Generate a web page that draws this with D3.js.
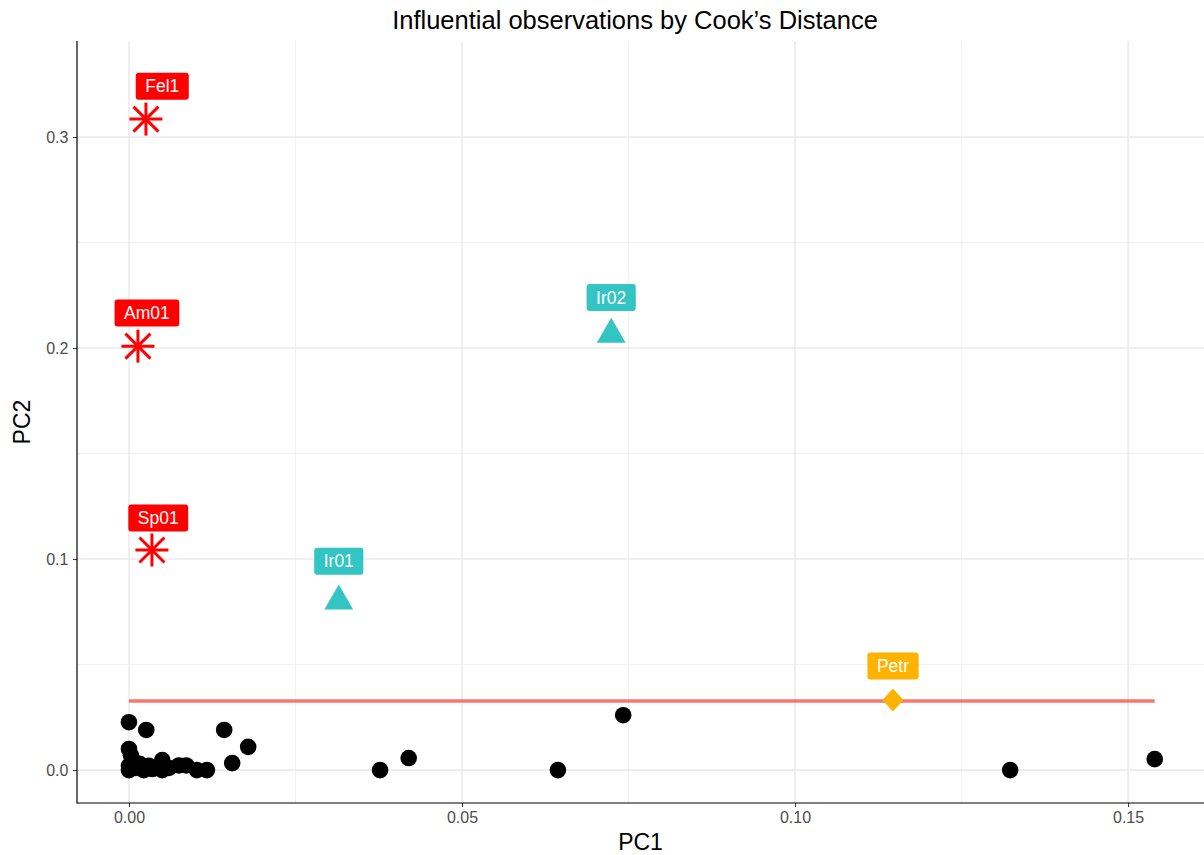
<!DOCTYPE html>
<html>
<head>
<meta charset="utf-8">
<script src="https://cdn.jsdelivr.net/npm/d3@7"></script>
<style>
  body { margin: 0; background: #fff; }
  svg { display: block; }
  text { font-family: "Liberation Sans", Arial, sans-serif; }
</style>
</head>
<body>
<svg id="chart" width="1204" height="855"></svg>
<script>
// Cook's distance components for each observation
const ordinaryPC1 = [0.0000, 0.0026, 0.0143, 0.0179, 0.0155, 0.0000, 0.0003, 0.0000, 0.0000,
  0.0010, 0.0016, 0.0022, 0.0030, 0.0040, 0.0050, 0.0050, 0.0060, 0.0075, 0.0086, 0.0102,
  0.0117, 0.0006, 0.0020, 0.0035, 0.0377, 0.0420, 0.0644, 0.0742, 0.1323, 0.1540];
const ordinaryPC2 = [0.0227, 0.0190, 0.0190, 0.0110, 0.0033, 0.0100, 0.0070, 0.0020, 0.0000,
  0.0010, 0.0030, 0.0000, 0.0020, 0.0010, 0.0047, 0.0000, 0.0010, 0.0022, 0.0022, 0.0000,
  0.0000, 0.0040, 0.0015, 0.0005, 0.0000, 0.0057, 0.0000, 0.0260, 0.0000, 0.0052];

const flaggedNames = ["Fel1", "Am01", "Sp01", "Ir01", "Ir02", "Petr"];
const flaggedGroup = ["A", "A", "A", "B", "B", "C"];
const flaggedPC1 = [0.00255, 0.00135, 0.00345, 0.0315, 0.0724, 0.1147];
const flaggedPC2 = [0.3085, 0.2009, 0.1043, 0.0800, 0.2065, 0.0332];
const labelPC1 = [0.0050, 0.0027, 0.0044, 0.0315, 0.0724, 0.1147];
const labelPC2 = [0.3240, 0.2166, 0.1194, 0.0990, 0.2240, 0.0493];

// Cutoff line drawn across the range of PC1
const cutoffPC1 = [0.0, 0.1540];
const cutoffPC2 = 0.0327;

const xTicks = [0.00, 0.05, 0.10, 0.15];
const xTickLabels = ["0.00", "0.05", "0.10", "0.15"];
const yTicks = [0.0, 0.1, 0.2, 0.3];
const yTickLabels = ["0.0", "0.1", "0.2", "0.3"];
const xMinor = [0.025, 0.075, 0.125];
const yMinor = [0.05, 0.15, 0.25];

const groupColor = { A: "#FF0000", B: "#33C4C4", C: "#FFB300" };

const svg = d3.select("#chart");
const panel = { left: 77, right: 1204, top: 41, bottom: 803 };

const x = d3.scaleLinear().domain([-0.0078, 0.1614]).range([panel.left, panel.right]);
const y = d3.scaleLinear().domain([-0.0156, 0.3455]).range([panel.bottom, panel.top]);

// Grid
const grid = svg.append("g");
grid.selectAll(".xminor").data(xMinor).join("line")
  .attr("x1", d => x(d)).attr("x2", d => x(d))
  .attr("y1", panel.top).attr("y2", panel.bottom)
  .attr("stroke", "#F2F2F2").attr("stroke-width", 1);
grid.selectAll(".yminor").data(yMinor).join("line")
  .attr("y1", d => y(d)).attr("y2", d => y(d))
  .attr("x1", panel.left).attr("x2", panel.right)
  .attr("stroke", "#F2F2F2").attr("stroke-width", 1);
grid.selectAll(".xmajor").data(xTicks).join("line")
  .attr("x1", d => x(d)).attr("x2", d => x(d))
  .attr("y1", panel.top).attr("y2", panel.bottom)
  .attr("stroke", "#EBEBEB").attr("stroke-width", 1.6);
grid.selectAll(".ymajor").data(yTicks).join("line")
  .attr("y1", d => y(d)).attr("y2", d => y(d))
  .attr("x1", panel.left).attr("x2", panel.right)
  .attr("stroke", "#EBEBEB").attr("stroke-width", 1.6);

// Axes
const xAxis = d3.axisBottom(x).tickValues(xTicks).tickFormat((d, i) => xTickLabels[i]).tickSize(4).tickSizeOuter(0);
const yAxis = d3.axisLeft(y).tickValues(yTicks).tickFormat((d, i) => yTickLabels[i]).tickSize(4).tickSizeOuter(0);

const gx = svg.append("g").attr("transform", `translate(0,${panel.bottom})`).call(xAxis);
gx.select(".domain").remove();
gx.selectAll(".tick line").attr("stroke", "#333333");
gx.selectAll(".tick text").attr("fill", "#4D4D4D").style("font-size", "16px").attr("dy", "0.8em");

const gy = svg.append("g").attr("transform", `translate(${panel.left},0)`).call(yAxis);
gy.select(".domain").remove();
gy.selectAll(".tick line").attr("stroke", "#333333");
gy.selectAll(".tick text").attr("fill", "#4D4D4D").style("font-size", "16px").attr("dx", "-0.1em");

svg.append("line").attr("x1", panel.left).attr("x2", panel.left)
  .attr("y1", panel.top).attr("y2", panel.bottom + 0.5)
  .attr("stroke", "#000").attr("stroke-width", 1.2);
svg.append("line").attr("x1", panel.left).attr("x2", panel.right)
  .attr("y1", panel.bottom).attr("y2", panel.bottom)
  .attr("stroke", "#000").attr("stroke-width", 1.2);

// Titles
svg.append("text").attr("x", 635).attr("y", 29)
  .attr("text-anchor", "middle").attr("font-size", 25.5).attr("fill", "#000")
  .text("Influential observations by Cook\u2019s Distance");
svg.append("text").attr("x", (panel.left + panel.right) / 2).attr("y", 850)
  .attr("text-anchor", "middle").attr("font-size", 23).attr("fill", "#000")
  .text("PC1");
svg.append("text").attr("transform", `translate(30,${(panel.top + panel.bottom) / 2}) rotate(-90)`)
  .attr("text-anchor", "middle").attr("font-size", 23).attr("fill", "#000")
  .text("PC2");

// Cutoff line
svg.append("line")
  .attr("x1", x(cutoffPC1[0])).attr("x2", x(cutoffPC1[1]))
  .attr("y1", y(cutoffPC2)).attr("y2", y(cutoffPC2))
  .attr("stroke", "#F8766D").attr("stroke-width", 3.5);

// Ordinary observations
svg.append("g").selectAll("circle").data(d3.range(ordinaryPC1.length)).join("circle")
  .attr("cx", i => x(ordinaryPC1[i])).attr("cy", i => y(ordinaryPC2[i]))
  .attr("r", 8.3).attr("fill", "#000");

// Flagged observations
const flagged = d3.range(flaggedNames.length).map(i => ({
  name: flaggedNames[i], group: flaggedGroup[i],
  px: flaggedPC1[i], py: flaggedPC2[i], lx: labelPC1[i], ly: labelPC2[i]
}));

const marks = svg.append("g");
flagged.forEach(d => {
  const cx = x(d.px), cy = y(d.py), col = groupColor[d.group];
  const g = marks.append("g").attr("transform", `translate(${cx},${cy})`);
  if (d.group === "A") {
    const r = 16.5, rd = 12.5;
    const segs = [[-r, 0, r, 0], [0, -r, 0, r], [-rd, -rd, rd, rd], [-rd, rd, rd, -rd]];
    segs.forEach(s => g.append("line")
      .attr("x1", s[0]).attr("y1", s[1]).attr("x2", s[2]).attr("y2", s[3])
      .attr("stroke", col).attr("stroke-width", 3));
  } else if (d.group === "B") {
    g.append("path").attr("d", d3.symbol(d3.symbolTriangle, 360)()).attr("fill", col);
  } else {
    g.append("path").attr("d", "M0,-11.5L10.5,0L0,11.5L-10.5,0Z").attr("fill", col);
  }
});

// Labels
const labels = svg.append("g");
flagged.forEach(d => {
  const lx = x(d.lx), ly = y(d.ly), col = groupColor[d.group];
  const g = labels.append("g").attr("transform", `translate(${lx},${ly})`);
  const rect = g.append("rect").attr("fill", col).attr("rx", 3).attr("ry", 3);
  const t = g.append("text").attr("text-anchor", "middle").attr("dy", "0.35em")
    .attr("font-size", 17.5).attr("fill", "#fff").text(d.name);
  const bb = t.node().getBBox();
  const padX = 9.5, h = 27;
  rect.attr("x", bb.x - padX).attr("y", -h / 2).attr("width", bb.width + 2 * padX).attr("height", h);
});
</script>
</body>
</html>
